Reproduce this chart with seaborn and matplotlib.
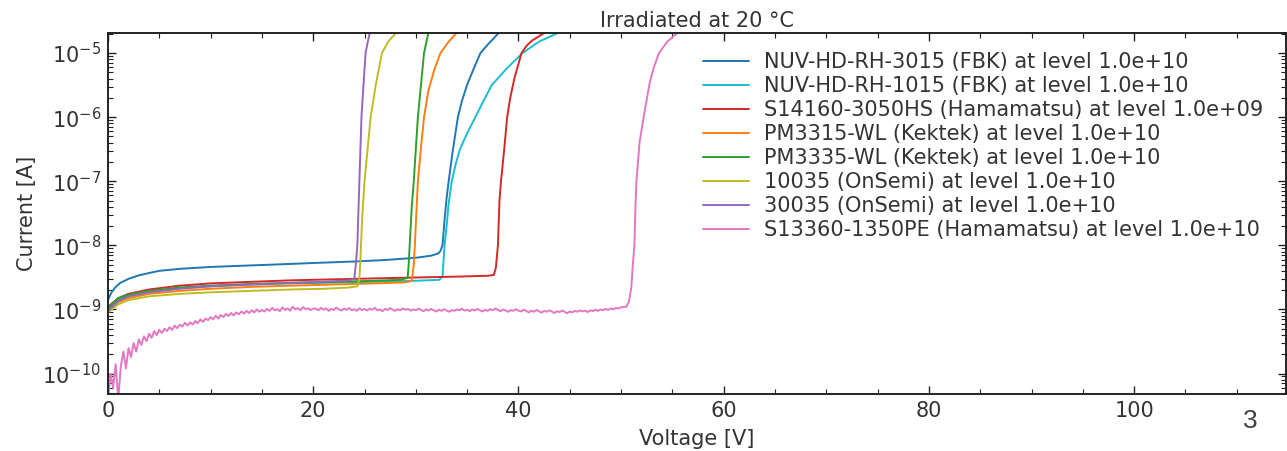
import numpy as np
import pandas as pd
import seaborn as sns
import matplotlib.pyplot as plt
from matplotlib.ticker import MultipleLocator, LogLocator, NullFormatter

# IV curves, current in nA
names = [
    'NUV-HD-RH-3015 (FBK) at level 1.0e+10',
    'NUV-HD-RH-1015 (FBK) at level 1.0e+10',
    'S14160-3050HS (Hamamatsu) at level 1.0e+09',
    'PM3315-WL (Kektek) at level 1.0e+10',
    'PM3335-WL (Kektek) at level 1.0e+10',
    '10035 (OnSemi) at level 1.0e+10',
    '30035 (OnSemi) at level 1.0e+10',
    'S13360-1350PE (Hamamatsu) at level 1.0e+10',
]
colors = ['#1f77b4', '#17becf', '#d62728', '#ff7f0e', '#2ca02c', '#bcbd22', '#9467bd', '#e377c2']
decades = [1e-10, 1e-9, 1e-8, 1e-7, 1e-6, 1e-5]

v_3015 = [0, 0.3, 0.7, 1.2, 2, 3, 4, 5, 7, 10, 13, 16, 20, 24, 27, 30, 31.5, 32.2, 32.4,
          32.6, 32.8, 33.0, 33.2, 33.6, 34.1, 34.5, 35.0, 35.6, 36.3, 37.0, 37.6, 38.0, 38.5]
i_3015 = [1.4, 1.8, 2.2, 2.6, 3.0, 3.4, 3.7, 4.0, 4.3, 4.6, 4.8, 5.0, 5.3, 5.6, 5.9, 6.4, 6.9, 7.5, 8.2,
          10, 25, 55, 100, 300, 1000, 1800, 3200, 5500, 10000, 13500, 17000, 20000, 23000]

v_1015 = [0, 1, 2, 4, 7, 10, 14, 18, 22, 26, 30, 32.3, 32.6, 32.8, 33.0, 33.2, 33.5, 33.9, 34.3,
          35.0, 35.8, 36.6, 37.4, 38.8, 40.4, 42.0, 43.7, 44.3]
i_1015 = [1.0, 1.4, 1.65, 1.9, 2.15, 2.3, 2.45, 2.55, 2.62, 2.7, 2.8, 2.9, 3.3, 10, 20, 45, 100, 190, 316,
          560, 1000, 1800, 3160, 5600, 10000, 15000, 20000, 23000]

v_14160 = [0, 1, 2, 4, 7, 10, 14, 18, 22, 26, 30, 34, 37, 37.6, 37.8, 38.0, 38.15, 38.3, 38.6,
           38.9, 39.2, 39.6, 40.3, 40.8, 41.3, 42.4, 43.0]
i_14160 = [1.1, 1.5, 1.75, 2.05, 2.35, 2.55, 2.7, 2.85, 2.95, 3.05, 3.15, 3.25, 3.35, 3.45, 4.5, 10, 50,
           100, 300, 1000, 2000, 4000, 10000, 13000, 15500, 20000, 24000]

v_3315 = [0, 1, 2, 4, 7, 10, 14, 18, 22, 26, 29, 29.6, 29.8, 29.9, 30.2, 30.5, 30.8, 31.2,
          31.8, 32.4, 33.2, 33.9, 34.3]
i_3315 = [0.9, 1.3, 1.5, 1.75, 1.95, 2.1, 2.25, 2.35, 2.45, 2.55, 2.65, 2.8, 5, 10, 100, 330, 1000, 2500,
          5500, 10000, 15000, 20000, 23000]

v_3335 = [0, 1, 2, 4, 7, 10, 14, 18, 22, 26, 28.5, 29.2, 29.3, 29.4, 29.6, 29.8, 30.0, 30.2,
          30.5, 30.8, 31.2, 31.4]
i_3335 = [1.05, 1.5, 1.7, 1.95, 2.2, 2.35, 2.5, 2.6, 2.7, 2.8, 2.9, 3.1, 5, 10, 40, 100, 320, 1000,
          3200, 10000, 20000, 24000]

v_10035 = [0, 1, 2, 4, 7, 10, 14, 18, 21, 23.5, 24.3, 24.5, 24.6, 24.65, 24.8, 25.0, 25.3,
           25.6, 26.1, 26.7, 27.3, 28.0, 28.4]
i_10035 = [0.9, 1.2, 1.4, 1.6, 1.75, 1.85, 1.95, 2.05, 2.1, 2.2, 2.3, 3, 6, 10, 32, 100, 320,
           1000, 3200, 10000, 15000, 20000, 24000]

v_30035 = [0, 1, 2, 4, 7, 10, 14, 18, 21, 23.5, 24.0, 24.15, 24.3, 24.4, 24.5, 24.6, 24.7,
           24.9, 25.1, 25.3, 25.5, 25.7]
i_30035 = [0.95, 1.35, 1.6, 1.85, 2.1, 2.3, 2.45, 2.6, 2.7, 2.85, 3.0, 5, 10, 32, 100, 320, 1000,
           3200, 10000, 14500, 20000, 25000]

# S13360 flat part is noisy, sampled every 0.25 V from 0 V
i_13360_flat = [
    0.04, 0.10, 0.06, 0.14, 0.04, 0.13, 0.22, 0.12, 0.25, 0.18, 0.30, 0.22, 0.34, 0.28, 0.38, 0.32,
    0.42, 0.36, 0.46, 0.40, 0.48, 0.43, 0.50, 0.46, 0.53, 0.48, 0.56, 0.51, 0.58, 0.54, 0.62, 0.56,
    0.63, 0.58, 0.66, 0.61, 0.70, 0.64, 0.72, 0.68, 0.76, 0.70, 0.80, 0.72, 0.82, 0.76, 0.85, 0.79,
    0.88, 0.81, 0.90, 0.84, 0.93, 0.86, 0.95, 0.88, 0.97, 0.90, 1.00, 0.92, 0.98,
    0.93, 1.02, 0.95, 1.06, 0.97, 1.01, 0.94, 1.08, 0.98, 1.04, 0.96, 1.10, 1.00, 1.05, 0.97, 1.09,
    1.01, 1.04, 0.98, 1.03,
    1.03, 0.97, 1.06, 0.99, 1.04, 0.95, 1.02, 0.98, 1.07, 1.00, 0.96, 1.03, 0.99, 1.05, 0.97, 1.01,
    0.95, 1.04, 0.98, 1.02,
    0.96, 1.03, 0.99, 1.06, 0.97, 1.00, 0.94, 1.02, 0.98, 1.05, 0.99, 0.95, 1.01, 0.97, 1.04, 0.99,
    1.02, 0.96, 1.00, 0.97,
    1.03, 0.98, 0.94, 1.00, 0.96, 1.02, 0.97, 0.93, 0.99, 0.95, 1.01, 0.96, 0.92, 0.98, 0.95, 1.00,
    0.97, 1.03, 0.96, 0.99,
    0.94, 1.00, 0.96, 1.02, 0.97, 0.93, 0.99, 0.95, 1.01, 0.97, 1.04, 0.98, 0.94, 1.00, 0.96, 0.92,
    0.98, 0.95, 1.01, 0.96,
    0.93, 0.99, 0.95, 0.90, 0.96, 0.92, 0.98, 0.94, 0.89, 0.95, 0.92, 0.97, 0.93, 0.88, 0.94, 0.91,
    0.96, 0.92, 0.87, 0.93,
    0.90, 0.95, 0.92, 0.97, 0.93, 0.96, 0.91, 0.97, 0.94, 0.99, 0.95, 1.00, 0.97, 1.02, 0.98, 1.04,
    1.00, 1.06, 1.03, 1.08,
]
v_13360_flat = list(0.25 * np.arange(len(i_13360_flat)))
v_13360_bd = [50.5, 50.75, 51.0, 51.15, 51.3, 51.4, 51.5, 51.8, 52.2, 52.8, 53.2, 53.7, 54.5, 55.4, 56.0]
i_13360_bd = [1.10, 1.3, 2.2, 5.0, 10, 40, 100, 400, 1000, 3500, 6000, 10000, 15000, 20000, 24000]

curves = [
    (v_3015, i_3015), (v_1015, i_1015), (v_14160, i_14160), (v_3315, i_3315),
    (v_3335, i_3335), (v_10035, i_10035), (v_30035, i_30035),
    (v_13360_flat + v_13360_bd, i_13360_flat + i_13360_bd),
]

frames = []
for name, (v, i) in zip(names, curves):
    frames.append(pd.DataFrame({'Voltage': v, 'Current': np.array(i) * 1e-9, 'Device': name}))
df = pd.concat(frames, ignore_index=True)

sns.set_theme(style='ticks')
plt.rcParams['font.family'] = ['DejaVu Sans']
txt = '#333333'

fig = plt.figure(figsize=(12.87, 4.51), dpi=100)
ax = fig.add_axes([108 / 1287, 57 / 451, 1178 / 1287, 361 / 451])

sns.lineplot(data=df, x='Voltage', y='Current', hue='Device', hue_order=names,
             palette=colors, sort=False, estimator=None, linewidth=1.4, ax=ax)

ax.set_yscale('log')
ax.set_xlim(0, 114.8)
ax.set_ylim(4.8e-11, 2.05e-5)

ax.xaxis.set_major_locator(MultipleLocator(20))
ax.xaxis.set_minor_locator(MultipleLocator(5))
ax.set_yticks(decades)
ax.yaxis.set_minor_locator(LogLocator(base=10, subs=np.arange(2, 10), numticks=20))
ax.yaxis.set_minor_formatter(NullFormatter())
ax.tick_params(which='both', direction='in', top=True, right=True, colors='#222222',
               labelcolor=txt, labelsize=15, pad=5)
ax.tick_params(which='major', length=6, width=1)
ax.tick_params(which='minor', length=3.5, width=0.8)
for s in ax.spines.values():
    s.set_linewidth(1.4)
    s.set_color('#222222')

ax.set_xlabel('Voltage [V]', fontsize=15, color=txt, labelpad=6)
ax.set_ylabel('Current [A]', fontsize=15, color=txt, labelpad=4)
ax.set_title('Irradiated at 20 °C', fontsize=15, color=txt, pad=4)

handles, labels = ax.get_legend_handles_labels()
ax.legend(handles, labels, loc='upper left', bbox_to_anchor=(0.505, 0.947), frameon=False,
          fontsize=15, handlelength=2.2, handletextpad=0.75, labelspacing=0.19,
          borderpad=0, borderaxespad=0, labelcolor=txt)

fig.text(1250 / 1287, 1 - 421 / 451, '3', fontsize=19, color='#404040',
         family='Liberation Sans', ha='center', va='center')

fig.savefig('out.png', dpi=100)
